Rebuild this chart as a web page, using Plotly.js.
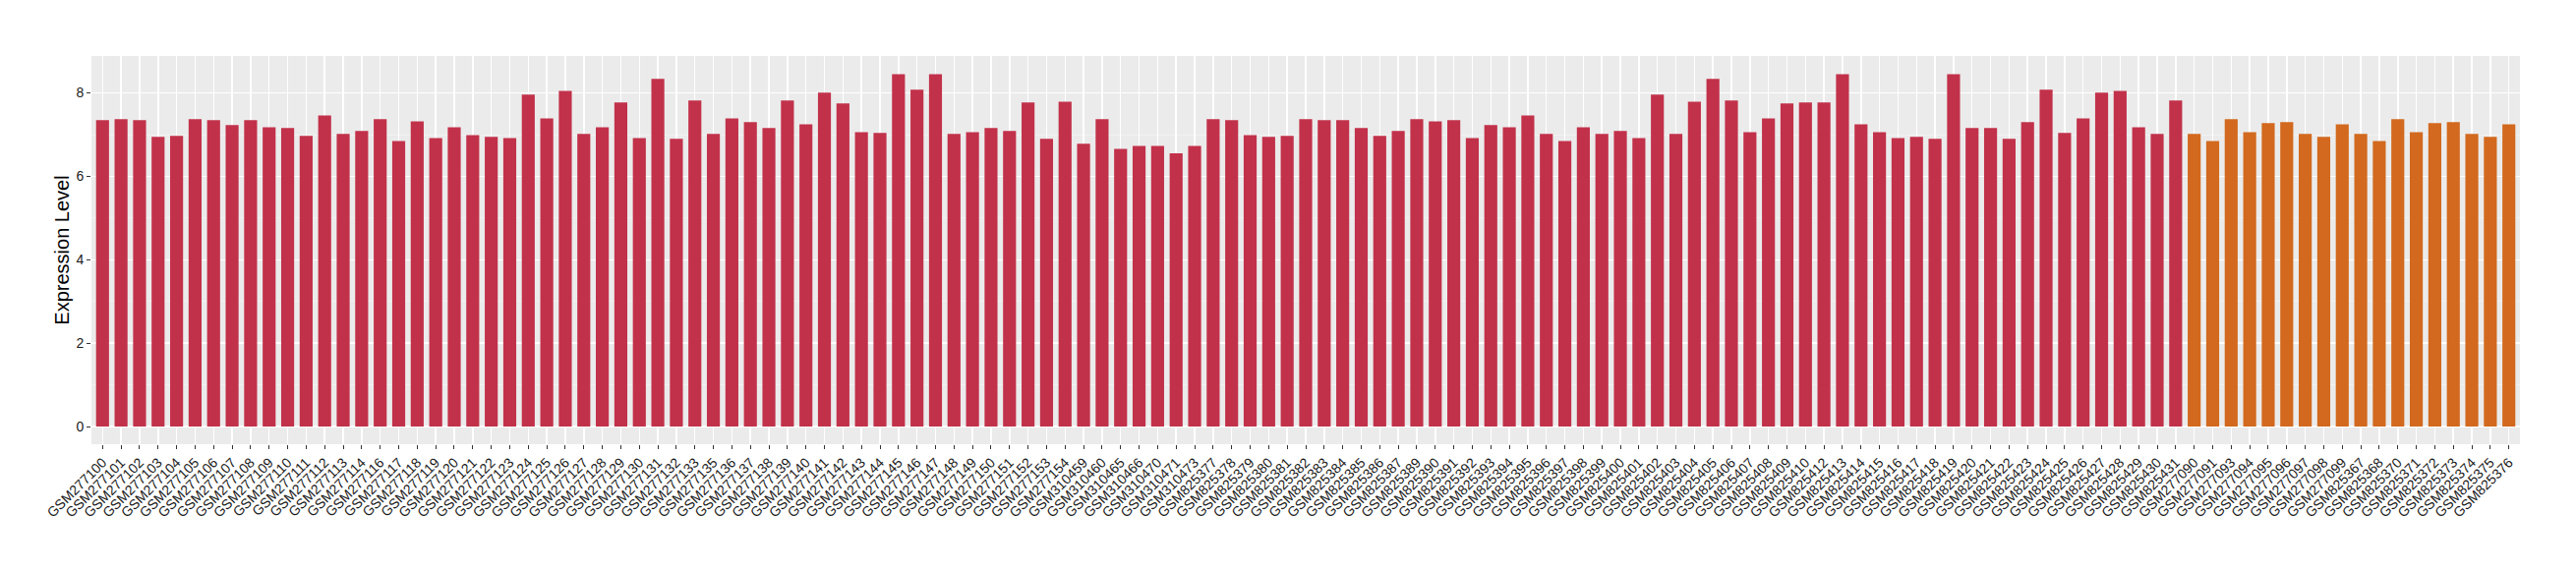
<!DOCTYPE html>
<html>
<head>
<meta charset="utf-8">
<script src="https://cdn.plot.ly/plotly-3.0.1.min.js"></script>
<style>html,body{margin:0;padding:0;background:#fff;}#chart{width:2620px;height:580px;}</style>
</head>
<body>
<div id="chart"></div>
<script>
// Group 1 (red)
const groupASamples = [
  "GSM277100","GSM277101","GSM277102","GSM277103","GSM277104","GSM277105","GSM277106","GSM277107","GSM277108","GSM277109",
  "GSM277110","GSM277111","GSM277112","GSM277113","GSM277114","GSM277116","GSM277117","GSM277118","GSM277119","GSM277120",
  "GSM277121","GSM277122","GSM277123","GSM277124","GSM277125","GSM277126","GSM277127","GSM277128","GSM277129","GSM277130",
  "GSM277131","GSM277132","GSM277133","GSM277135","GSM277136","GSM277137","GSM277138","GSM277139","GSM277140","GSM277141",
  "GSM277142","GSM277143","GSM277144","GSM277145","GSM277146","GSM277147","GSM277148","GSM277149","GSM277150","GSM277151",
  "GSM277152","GSM277153","GSM277154","GSM310459","GSM310460","GSM310465","GSM310466","GSM310470","GSM310471","GSM310473",
  "GSM825377","GSM825378","GSM825379","GSM825380","GSM825381","GSM825382","GSM825383","GSM825384","GSM825385","GSM825386",
  "GSM825387","GSM825389","GSM825390","GSM825391","GSM825392","GSM825393","GSM825394","GSM825395","GSM825396","GSM825397",
  "GSM825398","GSM825399","GSM825400","GSM825401","GSM825402","GSM825403","GSM825404","GSM825405","GSM825406","GSM825407",
  "GSM825408","GSM825409","GSM825410","GSM825412","GSM825413","GSM825414","GSM825415","GSM825416","GSM825417","GSM825418",
  "GSM825419","GSM825420","GSM825421","GSM825422","GSM825423","GSM825424","GSM825425","GSM825426","GSM825427","GSM825428",
  "GSM825429","GSM825430","GSM825431"
];
const groupAValues = [
  7.35,7.37,7.35,6.95,6.97,7.37,7.35,7.23,7.35,7.18,
  7.16,6.97,7.46,7.02,7.09,7.37,6.85,7.32,6.92,7.18,
  6.99,6.95,6.92,7.96,7.39,8.05,7.02,7.18,7.77,6.92,
  8.34,6.90,7.82,7.02,7.39,7.30,7.16,7.82,7.25,8.01,
  7.75,7.06,7.04,8.45,8.08,8.45,7.02,7.06,7.16,7.09,
  7.77,6.90,7.79,6.78,7.37,6.66,6.73,6.73,6.55,6.73,
  7.37,7.35,6.99,6.95,6.97,7.37,7.35,7.35,7.16,6.97,
  7.09,7.37,7.32,7.35,6.92,7.23,7.18,7.46,7.02,6.85,
  7.18,7.02,7.09,6.92,7.96,7.02,7.79,8.34,7.82,7.06,
  7.39,7.75,7.77,7.77,8.45,7.25,7.06,6.92,6.95,6.90,
  8.45,7.16,7.16,6.90,7.30,8.08,7.04,7.39,8.01,8.05,
  7.18,7.02,7.82
];
// Group 2 (orange)
const groupBSamples = [
  "GSM277090","GSM277091","GSM277093","GSM277094","GSM277095","GSM277096","GSM277097","GSM277098","GSM277099",
  "GSM825367","GSM825368","GSM825370","GSM825371","GSM825372","GSM825373","GSM825374","GSM825375","GSM825376"
];
const groupBValues = [
  7.02,6.85,7.37,7.06,7.28,7.30,7.02,6.95,7.25,
  7.02,6.85,7.37,7.06,7.28,7.30,7.02,6.95,7.25
];
const groupAColor = "#C2314A";
const groupBColor = "#D2691E";

const samples = groupASamples.concat(groupBSamples);
const values = groupAValues.concat(groupBValues);
const colors = groupASamples.map(() => groupAColor).concat(groupBSamples.map(() => groupBColor));

const FONT = "Liberation Sans, Arial, Helvetica, sans-serif";

Plotly.newPlot("chart", [{
  type: "bar",
  x: samples,
  y: values,
  marker: { color: colors, line: { width: 0 } },
  hoverinfo: "x+y"
}], {
  width: 2620,
  height: 580,
  margin: { l: 93, r: 57, t: 57, b: 128, pad: 0 },
  paper_bgcolor: "#FFFFFF",
  plot_bgcolor: "#EBEBEB",
  bargap: 0.3,
  showlegend: false,
  font: { family: FONT, color: "#000000" },
  xaxis: {
    type: "category",
    range: [-0.6, samples.length - 0.4],
    tickangle: -45,
    tickfont: { family: FONT, size: 14, color: "#1A1A1A" },
    ticks: "outside",
    ticklen: 4,
    tickwidth: 1,
    tickcolor: "#333333",
    showgrid: true,
    gridcolor: "#FFFFFF",
    gridwidth: 1.5,
    zeroline: false,
    showline: false,
    automargin: false,
    fixedrange: true
  },
  yaxis: {
    range: [-0.423, 8.886],
    tickvals: [0, 2, 4, 6, 8],
    ticktext: ["0", "2", "4", "6", "8"],
    tickfont: { family: FONT, size: 14, color: "#1A1A1A" },
    ticks: "outside",
    ticklen: 4,
    tickwidth: 1,
    tickcolor: "#333333",
    showgrid: true,
    gridcolor: "#FFFFFF",
    gridwidth: 1.5,
    minor: { dtick: 1, tick0: 0, showgrid: true, gridcolor: "#F5F5F5", gridwidth: 0.7, ticks: "" },
    zeroline: false,
    showline: false,
    automargin: false,
    title: { text: "Expression Level", font: { family: FONT, size: 20, color: "#000000" }, standoff: 1 },
    fixedrange: true
  }
}, { displayModeBar: false, staticPlot: true });
</script>
</body>
</html>
